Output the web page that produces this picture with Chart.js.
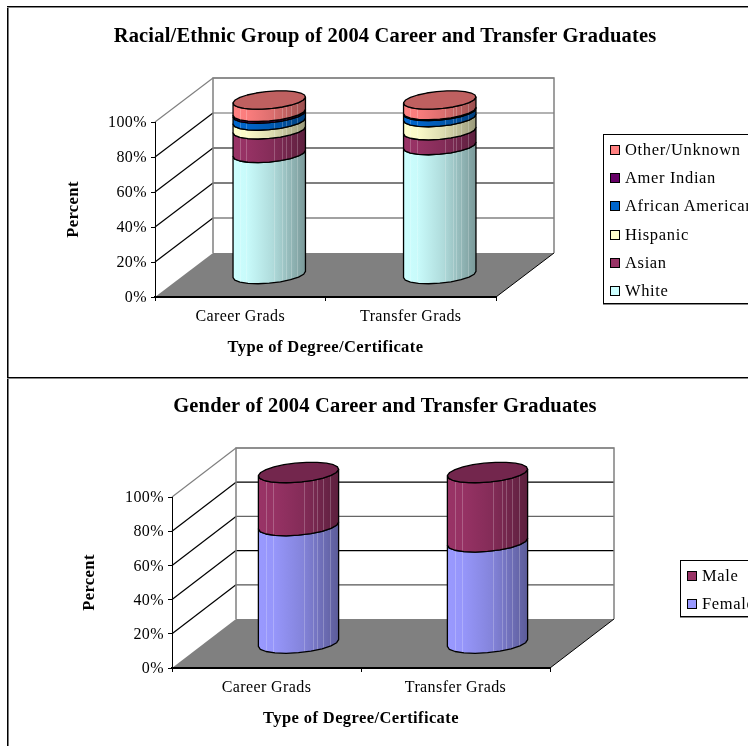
<!DOCTYPE html>
<html>
<head>
<meta charset="utf-8">
<title>2004 Career and Transfer Graduates</title>
<script src="https://cdn.jsdelivr.net/npm/chart.js@4/dist/chart.umd.min.js"></script>
<style>
  html, body { margin: 0; padding: 0; background: #fff; }
  body { position: relative; width: 748px; height: 746px; overflow: hidden; font-family: "Liberation Serif", serif; color: #000; }
  .panel { position: absolute; left: 7px; width: 741px; border-left: 1px solid #000; box-shadow: inset 1px 0 0 #777; }
  .panel canvas { position: absolute; display: block; left: -8px; }
  #panel-race { top: 6px; height: 371px; }
  #panel-race canvas { top: -6px; }
  #panel-gender { top: 377px; height: 369px; }
  #panel-gender canvas { top: 0; }
  .frame-line { position: absolute; left: 7px; width: 741px; height: 1px; background: #000; box-shadow: 0 1px 0 #888; }
  h3 { position: absolute; margin: 0; left: 22px; width: 726px; text-align: center; font-size: 20.5px; letter-spacing: 0.18px; font-weight: bold; line-height: 24px; white-space: nowrap; }
  .legend { position: absolute; box-sizing: border-box; border: 1px solid #000; box-shadow: 0 1px 0 #888; width: 220px; background: #fff; }
  .legend div { position: absolute; left: 21px; font-size: 16.5px; letter-spacing: 0.65px; line-height: 20px; white-space: nowrap; }
  .legend i { position: absolute; left: -15px; top: 5px; width: 8px; height: 8px; border: 1px solid #000; }
</style>
</head>
<body>
<div class="panel" id="panel-race"><canvas id="race-chart" width="748" height="377"></canvas></div>
<div class="panel" id="panel-gender"><canvas id="gender-chart" width="748" height="369"></canvas></div>
<div class="frame-line" style="top:6px"></div>
<div class="frame-line" style="top:377px"></div>
<h3 style="top:23px">Racial/Ethnic Group of 2004 Career and Transfer Graduates</h3>
<h3 style="top:393px">Gender of 2004 Career and Transfer Graduates</h3>
<div class="legend" id="race-legend" style="left:603px;top:134px;height:170px"></div>
<div class="legend" id="gender-legend" style="left:680px;top:560px;height:57px"></div>

<script>
const categories = ["Career Grads", "Transfer Grads"];

const whitePct = [69.5, 74];
const asianPct = [13.5, 8.5];
const hispanicPct = [5, 7.5];
const africanAmericanPct = [4, 3.5];
const amerIndianPct = [1, 0.5];
const otherUnknownPct = [7, 6];

const femalePct = [69, 59.5];
const malePct = [31, 40.5];

const seriesFont = '"Liberation Serif", serif';

// where the lighter facet seams fall across a cylinder, left to right
const seamStops = [0.09, 0.18, 0.57, 0.68, 0.73, 0.8, 0.89];

// multiply an #rrggbb colour by a brightness factor
const shade = (hex, factor) => {
  const n = parseInt(hex.slice(1), 16);
  const r = Math.round(((n >> 16) & 255) * factor);
  const g = Math.round(((n >> 8) & 255) * factor);
  const b = Math.round((n & 255) * factor);
  return `rgb(${r}, ${g}, ${b})`;
};

const tracePoints = (ctx, points) => {
  points.forEach(([x, y], i) => (i ? ctx.lineTo(x, y) : ctx.moveTo(x, y)));
};

const drawWalls = (chart, opts) => {
  const { ctx, chartArea: area } = chart;
  const y = chart.scales.y;
  const { dx, dy, lineColors } = opts;

  ctx.save();
  // floor
  ctx.fillStyle = "#808080";
  ctx.beginPath();
  tracePoints(ctx, [
    [area.left, area.bottom],
    [area.right, area.bottom],
    [area.right + dx, area.bottom - dy],
    [area.left + dx, area.bottom - dy],
  ]);
  ctx.closePath();
  ctx.fill();

  ctx.lineWidth = 1;
  ctx.strokeStyle = "#000";
  ctx.beginPath();
  tracePoints(ctx, [
    [area.right, area.bottom],
    [area.right + dx, area.bottom - dy],
  ]);
  ctx.stroke();

  // gridlines run back along the side wall, then across the back wall
  for (const tick of y.ticks) {
    if (tick.value === 0) continue;
    const py = y.getPixelForValue(tick.value);
    ctx.lineWidth = 1.2;
    ctx.strokeStyle = tick.value === 100 ? "#808080" : "#000";
    ctx.beginPath();
    tracePoints(ctx, [
      [area.left, py],
      [area.left + dx, py - dy],
    ]);
    ctx.stroke();
    ctx.strokeStyle = lineColors[tick.value];
    ctx.beginPath();
    tracePoints(ctx, [
      [area.left + dx, py - dy],
      [area.right + dx, py - dy],
    ]);
    ctx.stroke();
  }

  // back wall outline
  ctx.strokeStyle = "#808080";
  ctx.lineWidth = 1.5;
  ctx.beginPath();
  tracePoints(ctx, [
    [area.left + dx, area.bottom - dy],
    [area.left + dx, area.top - dy],
    [area.right + dx, area.top - dy],
    [area.right + dx, area.bottom - dy],
  ]);
  ctx.stroke();
  ctx.restore();
};

const ringPoint = (cx, cy, a, kx, ky, t) => [
  cx + a * Math.cos(t) + kx * Math.sin(t),
  cy - ky * Math.sin(t),
];

// front half of the ring, right silhouette edge to left silhouette edge
const frontArc = (cx, cy, a, kx, ky) => {
  const start = Math.atan2(kx, a);
  const steps = 10;
  const points = [];
  for (let i = 0; i <= steps; i++) {
    points.push(ringPoint(cx, cy, a, kx, ky, start - (Math.PI * i) / steps));
  }
  return points;
};

const drawSegment = (ctx, cx, yTop, yBase, a, kx, ky, color) => {
  const half = Math.hypot(a, kx);
  const upper = frontArc(cx, yTop, a, kx, ky);
  const lower = frontArc(cx, yBase, a, kx, ky);
  const outline = [...upper, ...lower.slice().reverse()];

  const fill = ctx.createLinearGradient(cx - half, 0, cx + half, 0);
  fill.addColorStop(0, shade(color, 1));
  fill.addColorStop(0.2, shade(color, 0.98));
  fill.addColorStop(0.55, shade(color, 0.86));
  fill.addColorStop(1, shade(color, 0.6));

  ctx.fillStyle = fill;
  ctx.beginPath();
  tracePoints(ctx, outline);
  ctx.closePath();
  ctx.fill();

  // facet seams, kept inside the body
  ctx.save();
  ctx.clip();
  ctx.strokeStyle = "rgba(255, 255, 255, 0.22)";
  ctx.lineWidth = 1;
  for (const stop of seamStops) {
    const x = Math.round(cx - half + stop * half * 2) + 0.5;
    ctx.beginPath();
    ctx.moveTo(x, yTop - 20);
    ctx.lineTo(x, yBase + 20);
    ctx.stroke();
  }
  ctx.restore();

  ctx.strokeStyle = "#000";
  ctx.lineWidth = 1.3;
  ctx.beginPath();
  tracePoints(ctx, outline);
  ctx.closePath();
  ctx.stroke();
};

const cylinderPlugin = {
  id: "cylinder",
  beforeDraw(chart, args, opts) {
    // the axis text is set slightly wide
    chart.ctx.letterSpacing = "0.4px";
    drawWalls(chart, opts);
  },
  // the flat bars only provide geometry
  beforeDatasetDraw() {
    return false;
  },
  afterDatasetsDraw(chart, args, opts) {
    const { ctx } = chart;
    const { dx, dy, ringDepth } = opts;
    const kx = dx * ringDepth;
    const ky = dy * ringDepth;

    ctx.save();
    ctx.lineJoin = "round";
    chart.data.labels.forEach((label, j) => {
      let top = null;
      chart.data.datasets.forEach((dataset, i) => {
        const bar = chart.getDatasetMeta(i).data[j];
        const cx = bar.x + dx / 2;
        const a = bar.width / 2;
        drawSegment(ctx, cx, bar.y - dy / 2, bar.base - dy / 2, a, kx, ky, dataset.backgroundColor);
        top = { cx, y: bar.y - dy / 2, a, color: dataset.backgroundColor };
      });

      // lid of the last segment
      const lid = [];
      for (let s = 0; s < 22; s++) {
        lid.push(ringPoint(top.cx, top.y, top.a, kx, ky, (Math.PI * 2 * s) / 22));
      }
      ctx.fillStyle = shade(top.color, 0.75);
      ctx.strokeStyle = "#000";
      ctx.lineWidth = 1.3;
      ctx.beginPath();
      tracePoints(ctx, lid);
      ctx.closePath();
      ctx.fill();
      ctx.stroke();
    });
    ctx.restore();
  },
};

const buildLegend = (id, datasets, rowTop, rowStep) => {
  const box = document.getElementById(id);
  datasets
    .slice()
    .reverse()
    .forEach((dataset, i) => {
      const row = document.createElement("div");
      row.textContent = dataset.label;
      row.style.top = `${rowTop + rowStep * i}px`;
      const swatch = document.createElement("i");
      swatch.style.background = dataset.backgroundColor;
      row.append(swatch);
      box.append(row);
    });
};

const buildChart = (canvasId, datasets, layout) =>
  new Chart(document.getElementById(canvasId), {
    type: "bar",
    data: {
      labels: categories,
      datasets: datasets.map((d) => ({ ...d, barPercentage: 0.4, categoryPercentage: 1 })),
    },
    plugins: [cylinderPlugin],
    options: {
      responsive: false,
      animation: false,
      layout: { padding: layout.padding },
      plugins: {
        legend: { display: false },
        title: { display: false },
        tooltip: { enabled: false },
        cylinder: {
          dx: layout.dx,
          dy: layout.dy,
          ringDepth: 0.21,
          lineColors: layout.lineColors,
        },
      },
      scales: {
        x: {
          stacked: true,
          grid: { drawOnChartArea: false, tickLength: 4, color: "#000" },
          border: { color: "#000", width: 2 },
          ticks: {
            color: "#000",
            padding: 6,
            maxRotation: 0,
            font: { family: seriesFont, size: 16 },
          },
          title: {
            display: true,
            text: "Type of Degree/Certificate",
            color: "#000",
            padding: { top: 0, bottom: layout.xTitleGap },
            font: { family: seriesFont, size: 16.5, weight: "bold" },
          },
          afterFit: (scale) => {
            scale.height = layout.xHeight;
          },
        },
        y: {
          stacked: true,
          min: 0,
          max: 100,
          grid: { drawOnChartArea: false, tickLength: 4, color: "#000" },
          border: { color: "#000", width: 1 },
          ticks: {
            stepSize: 20,
            color: "#000",
            padding: 4,
            labelOffset: 1,
            font: { family: seriesFont, size: 16 },
            callback: (value) => `${value}%`,
          },
          title: {
            display: true,
            text: "Percent",
            color: "#000",
            padding: { top: 9, bottom: 0 },
            font: { family: seriesFont, size: 16.5, weight: "bold" },
          },
          afterFit: (scale) => {
            scale.width = layout.yWidth;
          },
        },
      },
    },
  });

const raceDatasets = [
  { label: "White", data: whitePct, backgroundColor: "#CCFFFF" },
  { label: "Asian", data: asianPct, backgroundColor: "#993366" },
  { label: "Hispanic", data: hispanicPct, backgroundColor: "#FFFFCC" },
  { label: "African American", data: africanAmericanPct, backgroundColor: "#0066CC" },
  { label: "Amer Indian", data: amerIndianPct, backgroundColor: "#660066" },
  { label: "Other/Unknown", data: otherUnknownPct, backgroundColor: "#FF8080" },
];

const genderDatasets = [
  { label: "Female", data: femalePct, backgroundColor: "#9999FF" },
  { label: "Male", data: malePct, backgroundColor: "#993366" },
];

buildChart("race-chart", raceDatasets, {
  padding: { left: 55, right: 252, top: 122, bottom: 6 },
  yWidth: 100,
  xHeight: 74,
  xTitleGap: 13,
  dx: 58,
  dy: 44,
  lineColors: { 20: "#444", 40: "#000", 60: "#000", 80: "#666", 100: "#808080" },
});

buildChart("gender-chart", genderDatasets, {
  padding: { left: 71, right: 198, top: 120, bottom: 6 },
  yWidth: 101,
  xHeight: 72,
  xTitleGap: 11,
  dx: 64,
  dy: 49,
  lineColors: { 20: "#555", 40: "#000", 60: "#666", 80: "#000", 100: "#808080" },
});

buildLegend("race-legend", raceDatasets, 5, 28.2);
buildLegend("gender-legend", genderDatasets, 5, 28);
</script>
</body>
</html>
